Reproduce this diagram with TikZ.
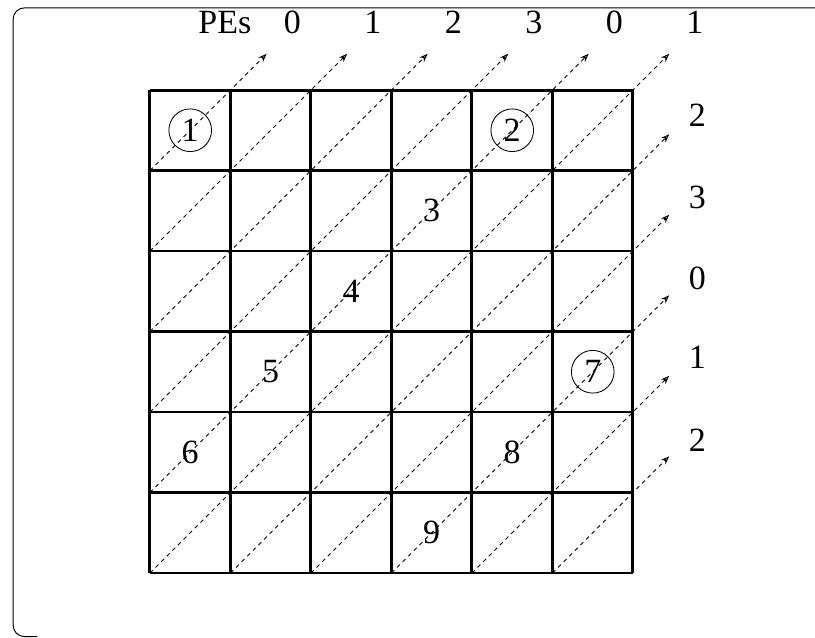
\documentclass[tikz,border=0pt]{standalone}
\usepackage{fontspec}
\setmainfont{Liberation Serif}
\usetikzlibrary{arrows.meta}
\begin{document}
\begin{tikzpicture}[scale=2, >={Stealth[open,length=6pt,width=4.5pt]},
    cheo/.style={line width=0.7pt, dash pattern=on 2.8pt off 2.8pt},
    so/.style={font=\fontsize{24}{28}\selectfont, inner sep=0pt},
    vong/.style={so, draw, circle, line width=0.6pt, minimum size=1.06cm}]
    \useasboundingbox (-1.863,-0.807) rectangle (8.261,7.118);
    % Vẽ khung
    \draw[line width=0.7pt, rounded corners=8pt] (8.261,7.02) -| (-1.70,-0.79) -- (-1.4,-0.79);
    % Vẽ lưới
    \draw[line width=2.1pt] (0,0) grid (6,6);
    
    % Vẽ các đường chéo
    \foreach \c in {0,...,5}
    \draw[cheo,->] (0,\c) -- (6.45-\c,6.45);
    \foreach \c in {1,...,5}
    \draw[cheo,->] (\c,0) -- (6.45,6.45-\c);
    
    % Đánh số PE phía trên
    \node[so] (pe) at (0.93,6.84) {PEs};
    \foreach \k/\p in {1/0,2/1,3/2,4/3,5/0,6/1}
    \node[so] (top\k) at (\k+0.77,6.84) {\p};
    
    % Đánh số PE bên phải
    \foreach \j/\y/\p in {5/5.69/2,4/4.67/3,3/3.66/0,2/2.68/1,1/1.65/2}
    \node[so] (phai\j) at (6.80,\y) {\p};
    
    % Đánh số các ô
    \node[vong] (o1) at (0.5,5.5) {1};
    \node[vong] (o2) at (4.5,5.5) {2};
    \node[vong] (o7) at (5.5,2.5) {7};
    \foreach \x/\y/\n in {3.5/4.5/3,2.5/3.5/4,1.5/2.5/5,0.5/1.5/6,4.5/1.5/8,3.5/0.5/9}
    \node[so] (o\n) at (\x,\y) {\n};
\end{tikzpicture}
\end{document}
